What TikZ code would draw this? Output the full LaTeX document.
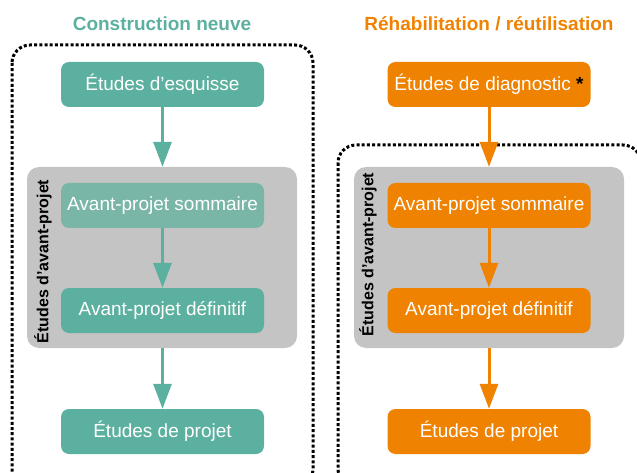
\documentclass[tikz,border=0pt]{standalone}
\usepackage{fontspec}
\setmainfont{Liberation Sans}
\usetikzlibrary{arrows.meta,positioning}
\definecolor{teal1}{HTML}{5CB09F}
\definecolor{teal2}{HTML}{79B6A8}
\definecolor{orange1}{HTML}{EF8200}
\definecolor{gray1}{HTML}{C4C4C4}
\tikzset{
  stepbox/.style={rectangle, rounded corners=8pt, minimum width=203pt, minimum height=45pt, inner sep=0pt, text=white, font=\fontsize{19}{22}\selectfont},
  graybox/.style={rectangle, rounded corners=12pt, fill=gray1, minimum width=270pt, minimum height=181pt, inner sep=0pt},
  dotbox/.style={draw=black, line width=3pt, dash pattern=on 3pt off 2.2pt, rounded corners=18pt},
  flow/.style={line width=3pt, -{Triangle[length=25pt,width=18pt]}},
  sidelabel/.style={rotate=90, font=\bfseries\fontsize{16}{18}\selectfont, inner sep=0pt},
  title/.style={font=\bfseries\fontsize{19}{22}\selectfont, inner sep=0pt}
}
\begin{document}
\begin{tikzpicture}[x=1pt,y=-1pt]
\useasboundingbox (0,0) rectangle (637,473);
% dotted frames
\draw[dotbox] (12,45) rectangle (313,487);
\draw[dotbox] (338,145) rectangle (641,487);
% titles
\node[title, text=teal1] (tL) at (162,24) {Construction neuve};
\node[title, text=orange1] (tR) at (489,24) {Réhabilitation / réutilisation};
% gray boxes
\node[graybox] (gL) at (162,257.5) {};
\node[graybox] (gR) at (489,257.5) {};
\node[sidelabel] (lL) at (43,261.5) {Études d’avant-projet};
\node[sidelabel] (lR) at (368,254.5) {Études d’avant-projet};
% left column
\node[stepbox, fill=teal1] (a1) at (162.5,84.5) {Études d’esquisse};
\node[stepbox, fill=teal2] (a2) at (162.5,205.5) {Avant-projet sommaire};
\node[stepbox, fill=teal1] (a3) at (162.5,310.5) {Avant-projet définitif};
\node[stepbox, fill=teal1] (a4) at (162.5,431.5) {Études de projet};
% right column
\node[stepbox, fill=orange1] (b1) at (489,84.5) {Études de diagnostic {\color{black}\bfseries *}};
\node[stepbox, fill=orange1] (b2) at (489,205.5) {Avant-projet sommaire};
\node[stepbox, fill=orange1] (b3) at (489,310.5) {Avant-projet définitif};
\node[stepbox, fill=orange1] (b4) at (489,431.5) {Études de projet};
% arrows
\draw[flow, teal1] (a1.south) -- (a1.south |- gL.north);
\draw[flow, teal1] (a2.south) -- (a3.north);
\draw[flow, teal1] (a3.south |- gL.south) -- (a4.north);
\draw[flow, orange1] (b1.south) -- (b1.south |- gR.north);
\draw[flow, orange1] (b2.south) -- (b3.north);
\draw[flow, orange1] (b3.south |- gR.south) -- (b4.north);
\end{tikzpicture}
\end{document}
